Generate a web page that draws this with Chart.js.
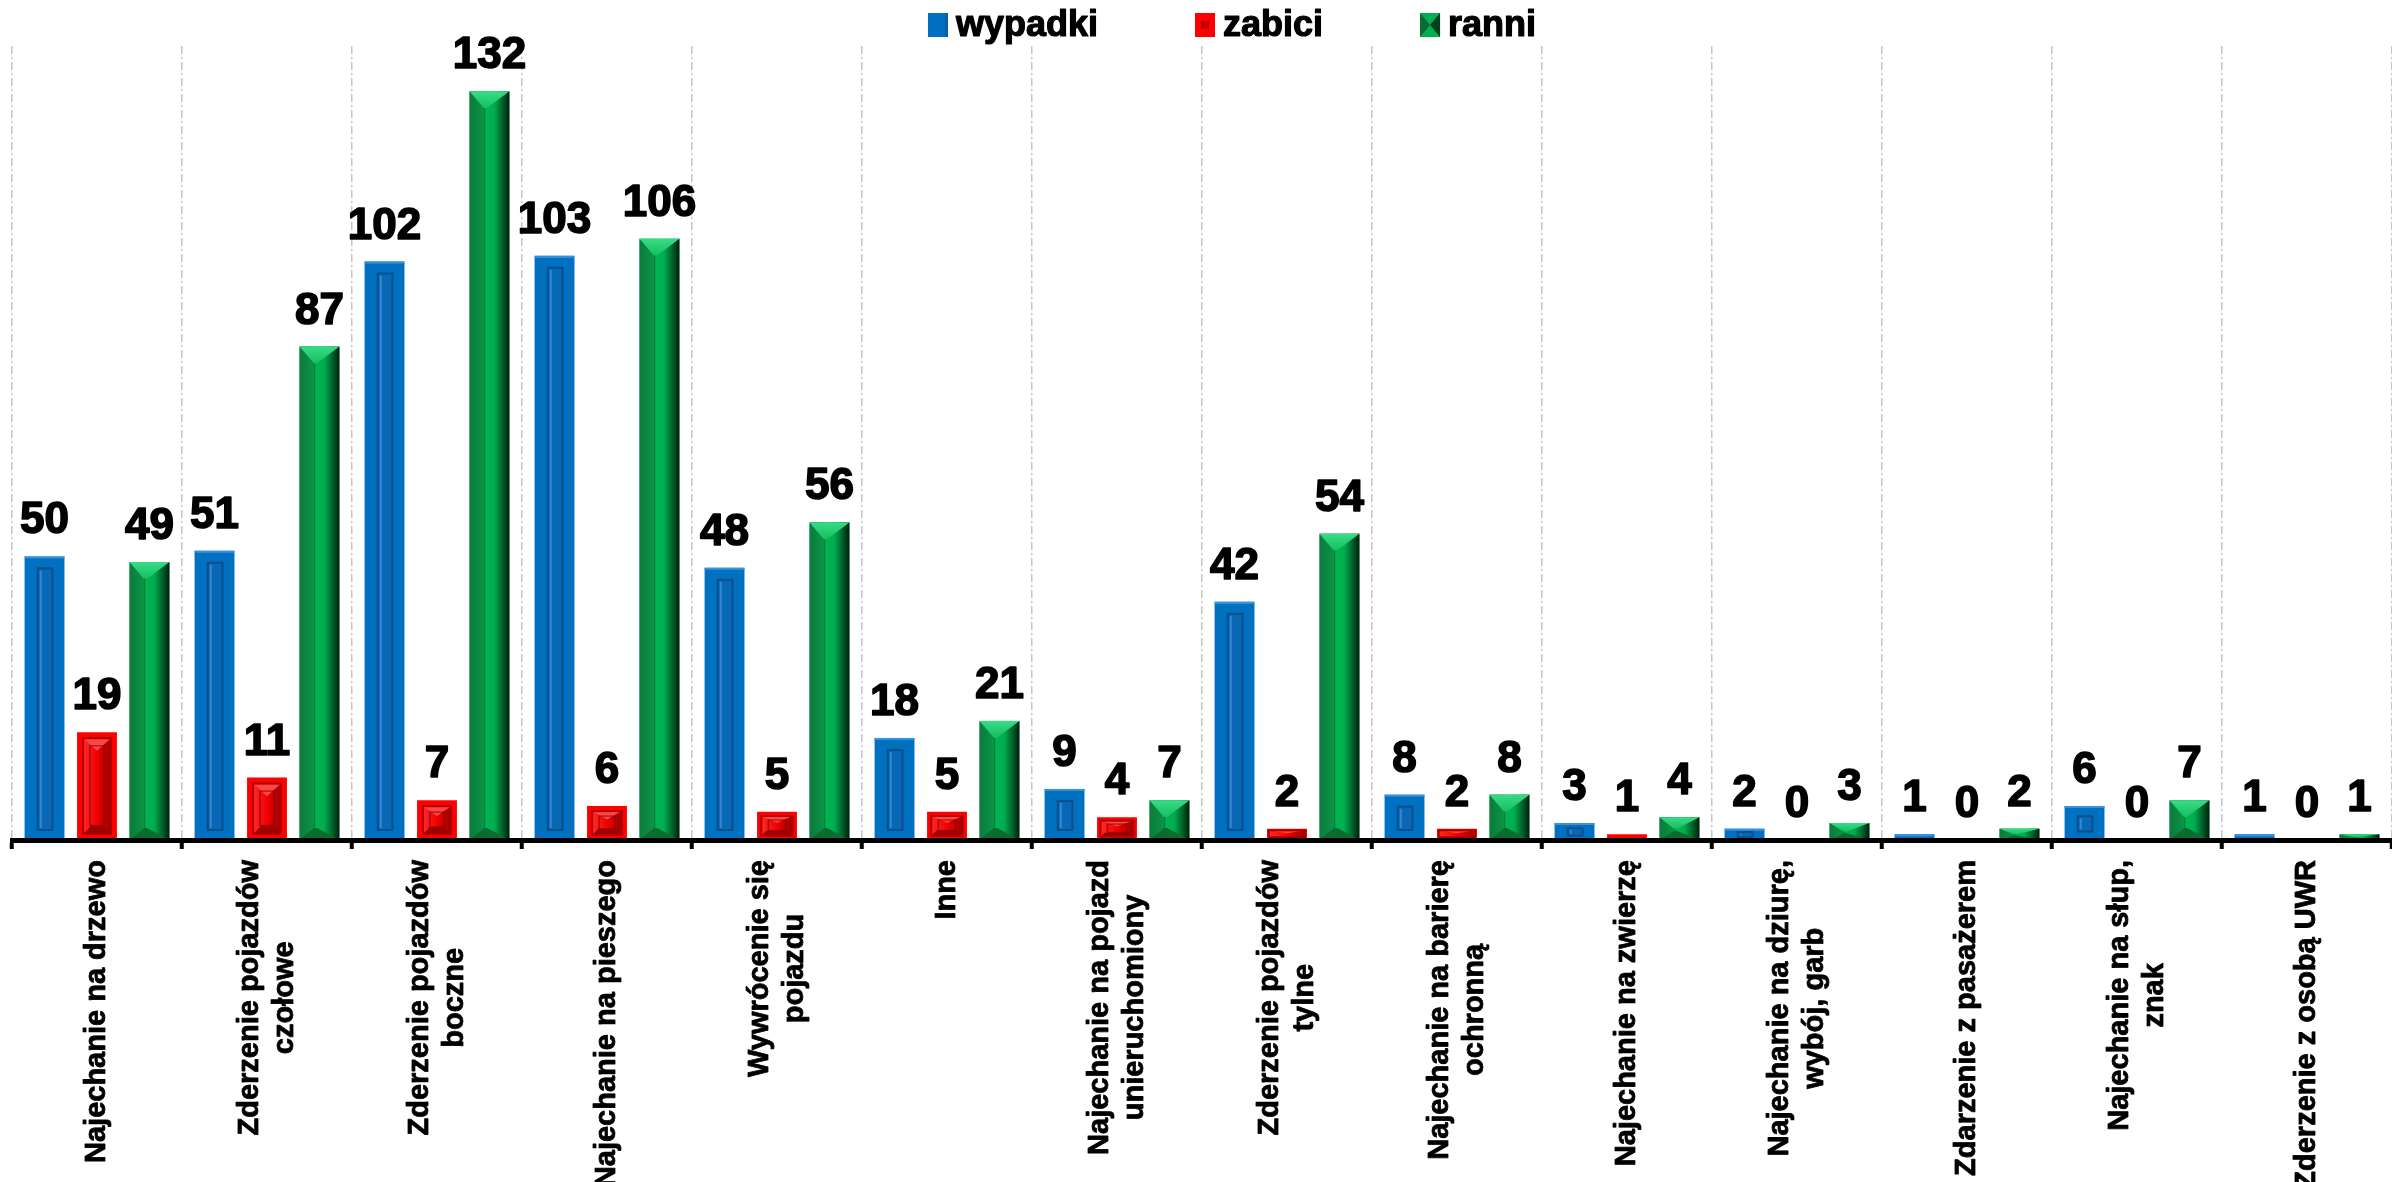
<!DOCTYPE html>
<html>
<head>
<meta charset="utf-8">
<script src="https://cdn.jsdelivr.net/npm/chart.js@4/dist/chart.umd.min.js"></script>
<style>
  body { margin: 0; background: #fff; }
  #wrap { width: 2392px; height: 1182px; position: relative; }
</style>
</head>
<body>
<div id="wrap"><canvas id="chart"></canvas></div>
<script>
// categories (each entry = lines of the rotated label)
const categories = [
  ['Najechanie na drzewo'],
  ['Zderzenie pojazdów', 'czołowe'],
  ['Zderzenie pojazdów', 'boczne'],
  ['Najechanie na pieszego'],
  ['Wywrócenie się', 'pojazdu'],
  ['Inne'],
  ['Najechanie na pojazd', 'unieruchomiony'],
  ['Zderzenie pojazdów', 'tylne'],
  ['Najechanie na barierę', 'ochronną'],
  ['Najechanie na zwierzę'],
  ['Najechanie na dziurę,', 'wybój, garb'],
  ['Zdarzenie z pasażerem'],
  ['Najechanie na słup,', 'znak'],
  ['Zderzenie z osobą UWR']
];
const seriesNames = ['wypadki', 'zabici', 'ranni'];
const wypadki = [50, 51, 102, 103, 48, 18, 9, 42, 8, 3, 2, 1, 6, 1];
const zabici  = [19, 11, 7, 6, 5, 5, 4, 2, 2, 1, 0, 0, 0, 0];
const ranni   = [49, 87, 132, 106, 56, 21, 7, 54, 8, 4, 3, 2, 7, 1];
const yMax = 140;

const colors = ['#0070C0', '#FF0000', '#00B050'];
const FONT = '"Liberation Sans", Arial, sans-serif';

function poly(ctx, pts, fill) {
  ctx.beginPath();
  ctx.moveTo(pts[0][0], pts[0][1]);
  for (let i = 1; i < pts.length; i++) ctx.lineTo(pts[i][0], pts[i][1]);
  ctx.closePath();
  ctx.fillStyle = fill;
  ctx.fill();
}

// bevel look for each series
function bevelBlue(ctx, l, t, r, b) {
  const w = r - l, h = b - t;
  ctx.fillStyle = '#3a92dc';
  ctx.fillRect(l, t, w, Math.min(2, h));
  if (h < 8) return;
  const il = l + w * 0.33, ir = r - w * 0.3;
  const it = t + Math.min(12, h * 0.3), ib = b - Math.min(10, h * 0.25);
  ctx.fillStyle = '#0868b6';
  ctx.fillRect(il, it, ir - il, ib - it);
  ctx.lineWidth = 2;
  ctx.strokeStyle = '#0b4f8c';
  ctx.strokeRect(il, it, ir - il, ib - it);
  ctx.fillStyle = '#2f8ad6';
  ctx.fillRect(il + 2, it + 2, 2, Math.max(0, ib - it - 4));
}

function bevelRed(ctx, l, t, r, b) {
  const w = r - l, h = b - t;
  if (h < 10) {
    ctx.fillStyle = '#c00000';
    ctx.fillRect(l, b - Math.min(2, h), w, Math.min(2, h));
    return;
  }
  const f = Math.min(6, h * 0.15);
  const il = l + f, ir = r - f, it = t + f, ib = b - f;
  const iw = ir - il, ih = ib - it;
  const g = ctx.createLinearGradient(il, 0, ir, 0);
  g.addColorStop(0, '#ff2a2a');
  g.addColorStop(0.5, '#f20000');
  g.addColorStop(1, '#9a0000');
  ctx.fillStyle = g;
  ctx.fillRect(il, it, iw, ih);
  const d = Math.min(iw * 0.45, ih * 0.35);
  poly(ctx, [[il, it], [ir, it], [il + iw / 2, it + d]], '#ff4646');
  const db = Math.min(iw * 0.3, ih * 0.25);
  poly(ctx, [[il, ib], [ir, ib], [ir - db, ib - db], [il + db, ib - db]], '#a00000');
  const s = Math.min(7, iw * 0.25);
  if (ih - d - db > 4) {
    ctx.strokeStyle = 'rgba(110,0,0,0.55)';
    ctx.lineWidth = 1.5;
    ctx.strokeRect(il + s, it + d * 0.6, iw - 2 * s, ih - d * 0.6 - db);
  }
  ctx.strokeStyle = '#b00000';
  ctx.lineWidth = 2;
  ctx.strokeRect(il, it, iw, ih);
}

function bevelGreen(ctx, l, t, r, b) {
  const w = r - l, h = b - t;
  const g = ctx.createLinearGradient(l, 0, r, 0);
  g.addColorStop(0, '#0b7a3b');
  g.addColorStop(0.35, '#0a9446');
  g.addColorStop(0.37, '#067a38');
  g.addColorStop(0.41, '#00b452');
  g.addColorStop(0.62, '#00ad4e');
  g.addColorStop(1, '#001f0c');
  ctx.fillStyle = g;
  ctx.fillRect(l, t, w, h);
  const rx = l + w * 0.36;
  const d = Math.min(w * 0.42, h * 0.5);
  const tg = ctx.createLinearGradient(0, t, 0, t + d);
  tg.addColorStop(0, '#38dc86');
  tg.addColorStop(1, '#14bf60');
  poly(ctx, [[l, t], [r, t], [rx + w * 0.08, t + d], [rx, t + d]], tg);
  const db = Math.min(w * 0.3, h * 0.4);
  poly(ctx, [[l, b], [rx, b - db], [rx + w * 0.08, b - db], [r, b]], '#0a6c33');
}

const bevels = [bevelBlue, bevelRed, bevelGreen];

const bevelPlugin = {
  id: 'bevel',
  afterDatasetsDraw(chart) {
    const ctx = chart.ctx;
    ctx.save();
    chart.data.datasets.forEach((ds, di) => {
      chart.getDatasetMeta(di).data.forEach(bar => {
        const w = bar.width;
        const t = Math.min(bar.y, bar.base), b = Math.max(bar.y, bar.base);
        if (b - t < 1) return;
        bevels[di](ctx, bar.x - w / 2, t, bar.x + w / 2, b);
      });
    });
    ctx.restore();
  }
};

// heavy text: fill plus thin stroke, like the original's rendering
function boldText(ctx, s, x, y, sw) {
  ctx.fillText(s, x, y);
  ctx.lineWidth = sw;
  ctx.strokeText(s, x, y);
}

// numbers above bars
const valueLabels = {
  id: 'valueLabels',
  afterDatasetsDraw(chart) {
    const ctx = chart.ctx;
    ctx.save();
    ctx.font = 'bold 44px ' + FONT;
    ctx.fillStyle = '#000';
    ctx.strokeStyle = '#000';
    ctx.lineJoin = 'round';
    ctx.textAlign = 'center';
    ctx.textBaseline = 'alphabetic';
    chart.data.datasets.forEach((ds, di) => {
      chart.getDatasetMeta(di).data.forEach((bar, i) => {
        const top = Math.min(bar.y, bar.base);
        boldText(ctx, String(ds.data[i]), bar.x, top - 23, 1.6);
      });
    });
    ctx.restore();
  }
};

// rotated category labels, lines centred on each other
const axisLabels = {
  id: 'axisLabels',
  afterDraw(chart) {
    const ctx = chart.ctx;
    const scale = chart.scales.x;
    const lineH = 35;
    ctx.save();
    ctx.font = 'bold 29px ' + FONT;
    ctx.fillStyle = '#000';
    ctx.strokeStyle = '#000';
    ctx.lineJoin = 'round';
    ctx.textAlign = 'center';
    ctx.textBaseline = 'middle';
    categories.forEach((lines, i) => {
      const x = scale.getPixelForTick(i);
      const maxW = Math.max(...lines.map(s => ctx.measureText(s).width));
      ctx.save();
      ctx.translate(x, scale.top + 20);
      ctx.rotate(-Math.PI / 2);
      lines.forEach((s, j) => {
        boldText(ctx, s, -maxW / 2, (j - (lines.length - 1) / 2) * lineH, 0.8);
      });
      ctx.restore();
    });
    ctx.restore();
  }
};

// legend at top
const legendPlugin = {
  id: 'topLegend',
  afterDraw(chart) {
    const ctx = chart.ctx;
    const centerX = 1232, cy = 25, boxW = 20, boxH = 24, gap = 8, itemGap = 97;
    ctx.save();
    ctx.font = 'bold 36px ' + FONT;
    ctx.textBaseline = 'middle';
    ctx.textAlign = 'left';
    ctx.strokeStyle = '#000';
    ctx.lineJoin = 'round';
    const widths = seriesNames.map(n => boxW + gap + ctx.measureText(n).width);
    const total = widths.reduce((a, b) => a + b, 0) + itemGap * (seriesNames.length - 1);
    let x = centerX - total / 2;
    seriesNames.forEach((name, i) => {
      const bt = cy - boxH / 2;
      ctx.fillStyle = colors[i];
      ctx.fillRect(x, bt, boxW, boxH);
      if (i === 0) {
        ctx.fillStyle = '#0b5ea8';
        ctx.fillRect(x + boxW - 3, bt, 3, boxH);
      } else if (i === 1) {
        ctx.fillStyle = '#c00000';
        ctx.fillRect(x + 6, bt + 8, boxW - 12, boxH - 16);
      } else if (i === 2) {
        poly(ctx, [[x, bt], [x + boxW / 2, bt + boxH / 2], [x, bt + boxH]], '#0a6a32');
        poly(ctx, [[x + boxW, bt], [x + boxW / 2, bt + boxH / 2], [x + boxW, bt + boxH]], '#00401a');
      }
      ctx.fillStyle = '#000';
      boldText(ctx, name, x + boxW + gap, cy + 1, 1.2);
      x += widths[i] + itemGap;
    });
    ctx.restore();
  }
};

const ctx = document.getElementById('chart').getContext('2d');
const chart = new Chart(ctx, {
  type: 'bar',
  data: {
    labels: categories,
    datasets: [
      { label: seriesNames[0], data: wypadki, backgroundColor: colors[0] },
      { label: seriesNames[1], data: zabici, backgroundColor: colors[1] },
      { label: seriesNames[2], data: ranni, backgroundColor: colors[2] }
    ]
  },
  options: {
    responsive: true,
    maintainAspectRatio: false,
    animation: false,
    layout: { padding: { top: 46, left: 12, right: 0, bottom: 0 } },
    datasets: { bar: { categoryPercentage: 0.926, barPercentage: 0.76 } },
    plugins: {
      legend: { display: false },
      tooltip: { enabled: false }
    },
    scales: {
      x: {
        grid: {
          offset: true,
          color: '#c4c4c4',
          lineWidth: 1.5,
          drawTicks: true,
          tickLength: 9,
          tickWidth: 4,
          tickColor: '#000',
          tickBorderDash: []
        },
        border: { color: '#000', width: 5, dash: [8, 3, 2, 3], z: 1 },
        ticks: { display: false },
        afterFit(scale) { scale.height = 342; }
      },
      y: { display: false, min: 0, max: yMax }
    }
  },
  plugins: [bevelPlugin, valueLabels, axisLabels, legendPlugin]
});
</script>
</body>
</html>
